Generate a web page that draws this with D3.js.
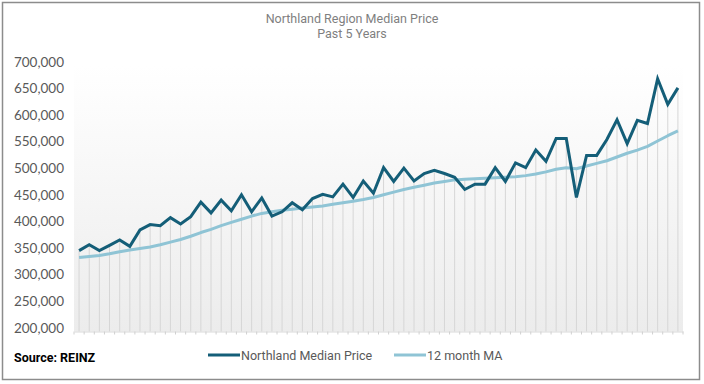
<!DOCTYPE html>
<html><head><meta charset="utf-8">
<script src="https://cdn.jsdelivr.net/npm/d3@7"></script>
<style>
html,body{margin:0;padding:0;background:#fff;}
svg{display:block;}
</style></head>
<body>
<svg id="chart" width="704" height="384"></svg>
<script>
const title = "Northland Region Median Price";
const subtitle = "Past 5 Years";
const source = "Source: REINZ";
const seriesNames = ["Northland Median Price", "12 month MA"];
const months = d3.timeMonth.range(new Date(2016, 2, 1), new Date(2021, 2, 1)).map(d3.timeFormat("%b-%y"));
const medianPrice = [352000,363000,352000,362000,372000,360000,391000,401000,399000,414000,
  402000,416000,443000,423000,447000,427000,457000,425000,451000,417000,
  425000,442000,429000,450000,458000,453000,477000,452000,483000,460000,
  508000,482000,507000,483000,497000,503000,497000,490000,467000,477000,
  477000,508000,482000,517000,508000,541000,520000,563000,563000,452000,
  531000,531000,561000,598000,553000,597000,591000,675000,627000,658000];
const movingAvg = [339000,341000,343000,346000,350000,353000,356000,359000,363000,368000,
  373000,379000,386000,392000,399000,405000,411000,417000,422000,425000,
  428000,430000,432000,434000,436000,439000,442000,445000,448000,452000,
  457000,462000,467000,471000,475000,479000,482000,485000,486000,487000,
  488000,489000,490000,491000,493000,496000,500000,505000,508000,506000,
  511000,516000,521000,528000,535000,541000,548000,558000,568000,577000];
const yTicks = [200000,250000,300000,350000,400000,450000,500000,550000,600000,650000,700000];

const svg = d3.select("#chart");
const W = 704, H = 384;
const plot = {left: 74, right: 683, top: 65.5, bottom: 331.5};
const darkColor = "#145e78";
const lightColor = "#8fc4d5";

// frame
svg.append("rect").attr("x", 2.5).attr("y", 2.5).attr("width", 697).attr("height", 377)
  .attr("fill", "#fff").attr("stroke", "#8c8c8c").attr("stroke-width", 1.5);

const defs = svg.append("defs");
const grad = defs.append("linearGradient").attr("id", "bg").attr("x1", 0).attr("x2", 0).attr("y1", 0).attr("y2", 1);
grad.append("stop").attr("offset", "0%").attr("stop-color", "#ffffff");
grad.append("stop").attr("offset", "100%").attr("stop-color", "#ececec");

const x = d3.scaleBand().domain(months).range([plot.left, plot.right]).padding(0);
const y = d3.scaleLinear().domain([200000, 700000]).range([plot.bottom, plot.top]);

svg.append("rect").attr("x", plot.left).attr("y", plot.top)
  .attr("width", plot.right - plot.left).attr("height", plot.bottom - plot.top)
  .attr("fill", "url(#bg)");

// title
svg.append("text").attr("x", 352).attr("y", 23).attr("text-anchor", "middle")
  .attr("font-family", "Roboto").attr("font-size", 12.5).attr("fill", "#7f7f7f").text(title);
svg.append("text").attr("x", 352).attr("y", 38).attr("text-anchor", "middle")
  .attr("font-family", "Roboto").attr("font-size", 12.5).attr("fill", "#7f7f7f").text(subtitle);

// drop lines
const cx = m => x(m) + x.bandwidth() / 2;
svg.append("g").selectAll("line").data(months).join("line")
  .attr("x1", cx).attr("x2", cx)
  .attr("y1", plot.bottom)
  .attr("y2", (m, i) => y(Math.max(medianPrice[i], movingAvg[i])))
  .attr("stroke", "#d6d6d6").attr("stroke-width", 1);

// y axis
const yAxis = d3.axisLeft(y).tickValues(yTicks).tickSize(0).tickPadding(0)
  .tickFormat(d3.format(","));
const yg = svg.append("g").attr("transform", `translate(64,0)`).call(yAxis);
yg.select(".domain").remove();
yg.selectAll("text").attr("font-family", "Lato").attr("font-size", 13.5)
  .attr("fill", "#595959").attr("dy", "0.05em");

// x axis
const xAxis = d3.axisBottom(x).tickFormat("").tickSize(0);
const xg = svg.append("g").attr("transform", `translate(0,${plot.bottom})`).call(xAxis);
xg.select(".domain").attr("stroke", "#d9d9d9");
xg.selectAll(".tick").remove();
svg.append("g").selectAll("line").data(months.concat(["end"])).join("line")
  .attr("x1", (m, i) => plot.left + i * x.bandwidth())
  .attr("x2", (m, i) => plot.left + i * x.bandwidth())
  .attr("y1", plot.bottom).attr("y2", plot.bottom + 3)
  .attr("stroke", "#d0d0d0").attr("stroke-width", 1);

// lines
const line = d3.line().x((d, i) => cx(months[i])).y(d => y(d));
svg.append("path").datum(movingAvg).attr("d", line)
  .attr("fill", "none").attr("stroke", lightColor).attr("stroke-width", 3)
  .attr("stroke-linejoin", "round");
svg.append("path").datum(medianPrice).attr("d", line)
  .attr("fill", "none").attr("stroke", darkColor).attr("stroke-width", 3)
  .attr("stroke-linejoin", "miter");

// source
svg.append("text").attr("x", 14).attr("y", 362)
  .attr("font-family", "Roboto").attr("font-weight", "bold").attr("font-size", 12.5)
  .attr("fill", "#000").text(source);

// legend
const legendItems = [
  {name: seriesNames[0], color: darkColor, x: 208},
  {name: seriesNames[1], color: lightColor, x: 394}
];
const lg = svg.append("g");
legendItems.forEach(it => {
  lg.append("line").attr("x1", it.x).attr("x2", it.x + 32).attr("y1", 355).attr("y2", 355)
    .attr("stroke", it.color).attr("stroke-width", 3);
  lg.append("text").attr("x", it.x + 33).attr("y", 359.5)
    .attr("font-family", "Roboto").attr("font-size", 12.5).attr("fill", "#595959").text(it.name);
});
</script>
</body></html>
